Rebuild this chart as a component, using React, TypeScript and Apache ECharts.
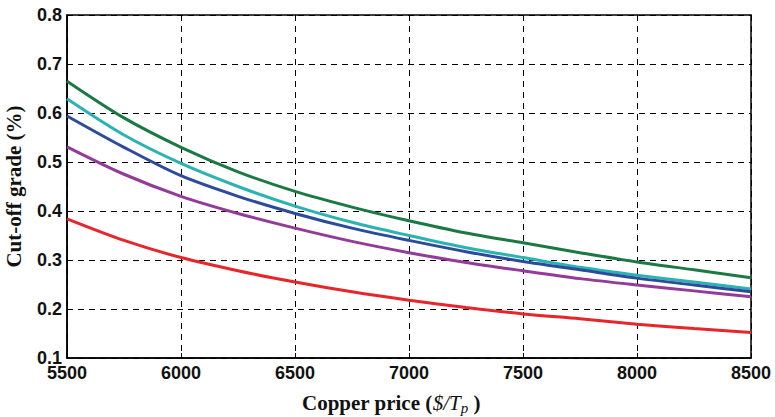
import React, { useEffect, useRef } from "react";
import * as echarts from "echarts";

const prices = [5500, 5750, 6000, 6250, 6500, 6750, 7000, 7250, 7500, 7750, 8000, 8250, 8500];
const greenSeries = [0.665, 0.59, 0.53, 0.48, 0.44, 0.408, 0.38, 0.355, 0.335, 0.315, 0.296, 0.28, 0.264];
const cyanSeries = [0.629, 0.555, 0.497, 0.45, 0.41, 0.377, 0.35, 0.325, 0.305, 0.285, 0.269, 0.255, 0.241];
const blueSeries = [0.594, 0.53, 0.472, 0.43, 0.395, 0.365, 0.34, 0.317, 0.297, 0.28, 0.263, 0.249, 0.235];
const purpleSeries = [0.531, 0.475, 0.43, 0.395, 0.365, 0.338, 0.315, 0.295, 0.278, 0.262, 0.249, 0.237, 0.225];
const redSeries = [0.384, 0.34, 0.305, 0.278, 0.255, 0.235, 0.218, 0.203, 0.19, 0.18, 0.169, 0.16, 0.152];

const seriesDefs = [
  { name: "s1", data: greenSeries, color: "#1b7a44" },
  { name: "s2", data: cyanSeries, color: "#2bb3b3" },
  { name: "s3", data: blueSeries, color: "#2d4b9b" },
  { name: "s4", data: purpleSeries, color: "#933b98" },
  { name: "s5", data: redSeries, color: "#e6262a" },
];

export default function App() {
  const ref = useRef<HTMLDivElement>(null);
  useEffect(() => {
    if (!ref.current) return;
    const chart = echarts.init(ref.current, null, { renderer: "svg" });
    const tickFont = {
      fontFamily: "Liberation Sans, Arial, sans-serif",
      fontWeight: "bold" as const,
      fontSize: 18,
      color: "#111",
    };
    const serif = "Liberation Serif, Times New Roman, serif";
    chart.setOption({
      animation: false,
      backgroundColor: "#fff",
      grid: {
        left: 67,
        right: 24,
        top: 15,
        bottom: 59,
        show: true,
        borderColor: "#000",
        borderWidth: 1.5,
        containLabel: false,
        outerBoundsMode: "none",
      },
      graphic: [
        {
          type: "text",
          left: 302,
          top: 391,
          style: {
            text: "{n|Copper price (}{i|$/T}{s|p}{n| )}",
            rich: {
              n: { fontFamily: serif, fontWeight: "bold", fontSize: 21, fill: "#111", lineHeight: 24 },
              i: { fontFamily: serif, fontStyle: "italic", fontSize: 21, fill: "#111", lineHeight: 24 },
              s: { fontFamily: serif, fontStyle: "italic", fontSize: 15, fill: "#111", lineHeight: 24, verticalAlign: "bottom", padding: [9, 0, 0, 0] },
            },
          },
        },
      ],
      xAxis: {
        type: "value",
        min: 5500,
        max: 8500,
        interval: 500,
        axisLine: { show: true, onZero: false, lineStyle: { color: "#000", width: 1.5 } },
        axisTick: { show: true, inside: true, length: 5, lineStyle: { color: "#000" } },
        splitLine: { show: true, lineStyle: { color: "#000", type: [6, 5], width: 1 } },
        axisLabel: { ...tickFont, margin: 6, formatter: (v: number) => String(v) },
      },
      yAxis: {
        type: "value",
        min: 0.1,
        max: 0.8,
        interval: 0.1,
        axisLine: { show: true, onZero: false, lineStyle: { color: "#000", width: 1.5 } },
        axisTick: { show: true, inside: true, length: 5, lineStyle: { color: "#000" } },
        splitLine: { show: true, lineStyle: { color: "#000", type: [6, 5], width: 1 } },
        axisLabel: { ...tickFont, margin: 5, formatter: (v: number) => v.toFixed(1) },
        name: "Cut-off grade (%)",
        nameLocation: "middle",
        nameGap: 43,
        nameTextStyle: {
          fontFamily: serif,
          fontWeight: "bold",
          fontSize: 21,
          color: "#111",
        },
      },
      series: seriesDefs.map((s) => ({
        name: s.name,
        type: "line",
        data: prices.map((p, i) => [p, s.data[i]]),
        smooth: 0.3,
        showSymbol: false,
        lineStyle: { color: s.color, width: 3 },
        itemStyle: { color: s.color },
      })),
    });
    return () => chart.dispose();
  }, []);
  return (
    <div style={{ position: "absolute", left: 0, top: 0 }}>
      <div ref={ref} style={{ width: 775, height: 417 }} />
    </div>
  );
}
